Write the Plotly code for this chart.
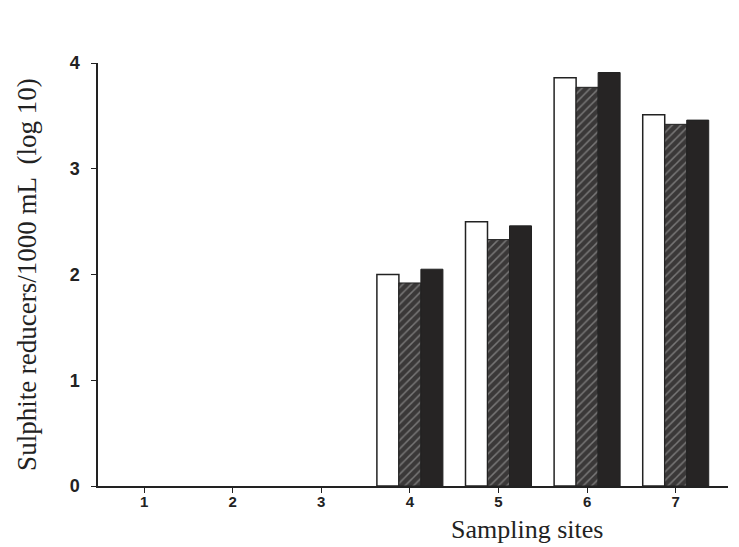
import plotly.graph_objects as go

sites = [1, 2, 3, 4, 5, 6, 7]
tick_labels = ["1", "2", "3", "4", "5", "6", "7"]
series_white = [0, 0, 0, 2.00, 2.50, 3.86, 3.51]
series_hatched = [0, 0, 0, 1.92, 2.33, 3.77, 3.42]
series_black = [0, 0, 0, 2.05, 2.46, 3.91, 3.46]


def widths(vals, w):
    return [w if v > 0 else 0 for v in vals]


fig = go.Figure()
fig.add_trace(go.Bar(x=sites, y=series_white,
                     marker=dict(color="white", line=dict(color="#222", width=widths(series_white, 1.5))),
                     showlegend=False))
fig.add_trace(go.Bar(x=sites, y=series_hatched,
                     marker=dict(color="#3c3a3a", line=dict(color="#222", width=widths(series_hatched, 1)),
                                 pattern=dict(shape="/", fgcolor="#b5b5b5", bgcolor="#3a3838", size=6, solidity=0.25)),
                     showlegend=False))
fig.add_trace(go.Bar(x=sites, y=series_black,
                     marker=dict(color="#262424", line=dict(color="#222", width=widths(series_black, 1))),
                     showlegend=False))

# page body has an 8px margin, so the figure is shrunk by 8px and margins compensated
fig.update_layout(
    width=731, height=539,
    margin=dict(l=90, r=11, t=55, b=61),
    paper_bgcolor="white", plot_bgcolor="white",
    barmode="group", bargap=0.255, bargroupgap=0,
    xaxis=dict(range=[0.48, 7.59], tickvals=sites, ticktext=tick_labels, showline=True, linecolor="#222", linewidth=1.5,
               ticks="outside", ticklen=5, tickcolor="#222", showgrid=False, zeroline=False,
               ticklabelstandoff=-4,
               tickfont=dict(family="Liberation Sans", size=15, color="#222", weight="bold")),
    yaxis=dict(range=[0, 4.0], tickvals=[0, 1, 2, 3, 4], showline=True, linecolor="#222", linewidth=1.5,
               ticks="outside", ticklen=5, tickcolor="#222", showgrid=False, zeroline=False,
               ticklabelstandoff=8,
               tickfont=dict(family="Liberation Sans", size=18, color="#222", weight="bold")),
)
fig.add_annotation(text="Sampling sites", x=0.681, y=-0.102, xref="paper", yref="paper", showarrow=False,
                   font=dict(family="Liberation Serif", size=26, color="#222"), xanchor="center", yanchor="middle")
fig.add_annotation(text="Sulphite reducers/1000 mL  (log 10)", x=-0.113, y=0.501, xref="paper", yref="paper",
                   showarrow=False, textangle=-90, font=dict(family="Liberation Serif", size=27, color="#222"),
                   xanchor="center", yanchor="middle")
fig.write_html("out.html")
